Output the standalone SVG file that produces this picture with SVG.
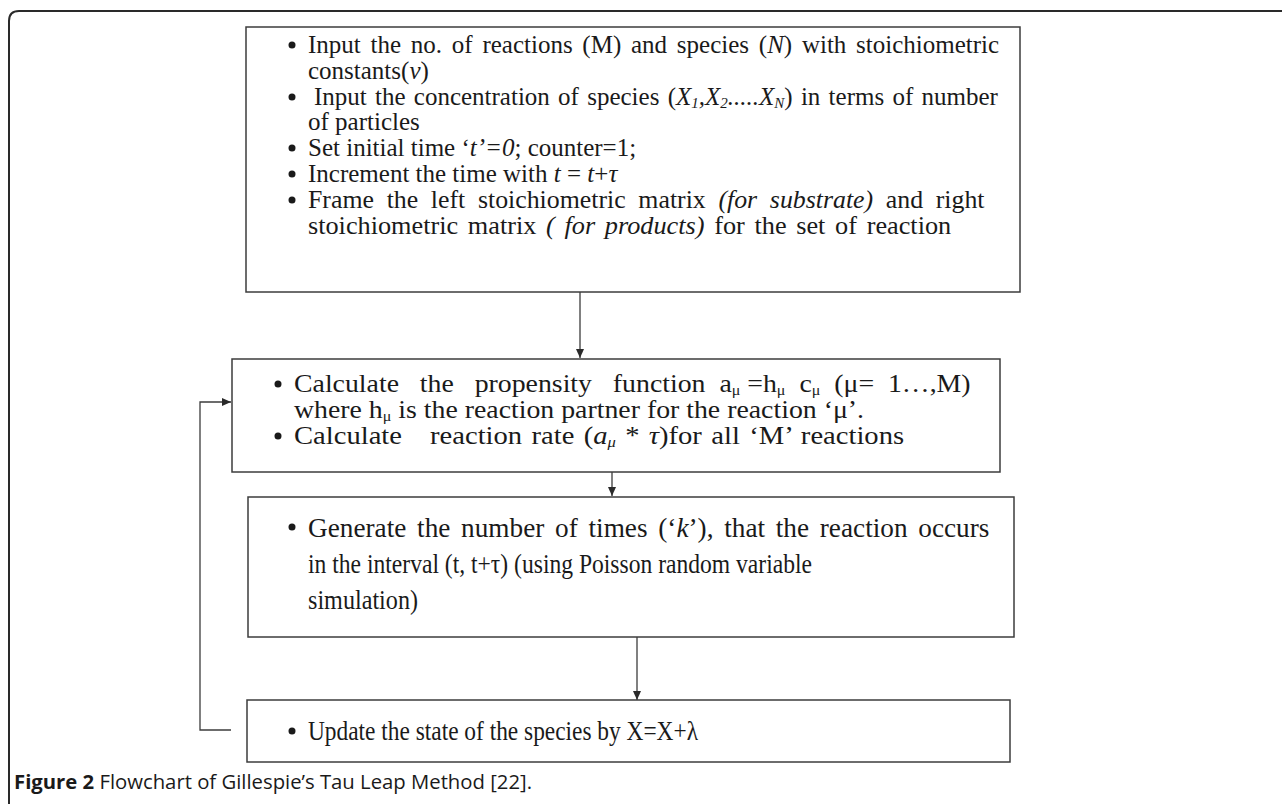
<svg xmlns="http://www.w3.org/2000/svg" width="1282" height="804" viewBox="0 0 1282 804">
<defs>
<style>
.frame{fill:none;stroke:#2a2a2a;stroke-width:2}
.box{fill:#fff;stroke:#3c3c3c;stroke-width:1.5}
.conn{fill:none;stroke:#3c3c3c;stroke-width:1.3}
.t{font-family:"Liberation Serif","Times New Roman",serif;font-size:25px;fill:#1a1a1a}
.t2{font-family:"Liberation Serif","Times New Roman",serif;font-size:26px;fill:#1a1a1a}
.t3{font-family:"Liberation Serif","Times New Roman",serif;font-size:28px;fill:#1a1a1a}
.i{font-style:italic}
.sub{font-size:15px}
.cap{font-family:"Open Sans","Liberation Sans",sans-serif;font-size:20px;fill:#1a1a1a}
</style>
<marker id="ah" markerWidth="10" markerHeight="10" refX="9" refY="5" orient="auto" markerUnits="userSpaceOnUse">
<path d="M0,1 L9,5 L0,9 Z" fill="#2a2a2a"/>
</marker>
</defs>
<rect width="1282" height="804" fill="#fff"/>
<path class="frame" d="M1282,11 L19,11 Q9,11 9,21 L9,804"/>

<g id="connectors">
<line class="conn" x1="580" y1="292" x2="580" y2="358" marker-end="url(#ah)"/>
<line class="conn" x1="612" y1="472" x2="612" y2="496" marker-end="url(#ah)"/>
<line class="conn" x1="637" y1="637" x2="637" y2="700" marker-end="url(#ah)"/>
<polyline class="conn" points="231,730 200,730 200,402 231,402" marker-end="url(#ah)"/>
</g>

<g id="node1">
<rect class="box" x="246" y="27" width="774" height="265"/>
<g class="t">
<circle cx="292" cy="45" r="3.5" fill="#1a1a1a"/>
<text x="308" y="53" word-spacing="3.5">Input the no. of reactions (M) and species (<tspan class="i">N</tspan>) with stoichiometric</text>
<text x="308" y="79">constants(<tspan class="i">v</tspan>)</text>
<circle cx="292" cy="97" r="3.5" fill="#1a1a1a"/>
<text x="314" y="105" word-spacing="2">Input the concentration of species (<tspan class="i">X<tspan class="sub" dy="3">1</tspan><tspan dy="-3">,X</tspan><tspan class="sub" dy="3">2</tspan><tspan dy="-3">.....X</tspan><tspan class="sub" dy="3">N</tspan></tspan><tspan dy="-3">) in terms of number</tspan></text>
<text x="308" y="130">of particles</text>
<circle cx="292" cy="148" r="3.5" fill="#1a1a1a"/>
<text x="308" y="156">Set initial time ‘<tspan class="i">t’=0</tspan>; counter=1;</text>
<circle cx="292" cy="174" r="3.5" fill="#1a1a1a"/>
<text x="308" y="182">Increment the time with <tspan class="i">t</tspan> = <tspan class="i">t</tspan>+<tspan class="i">τ</tspan></text>
<circle cx="292" cy="200" r="3.5" fill="#1a1a1a"/>
<text transform="translate(308,208) scale(1.034,1)" word-spacing="6">Frame the left stoichiometric matrix <tspan class="i">(for substrate)</tspan> and right</text>
<text transform="translate(308,234) scale(1.05,1)" word-spacing="3">stoichiometric matrix <tspan class="i">( for products)</tspan> for the set of reaction</text>
</g>
</g>

<g id="node2">
<rect class="box" x="232" y="359" width="768" height="113"/>
<g class="t2">
<circle cx="278" cy="384" r="3.5" fill="#1a1a1a"/>
<text transform="translate(294,392) scale(1.07,1)" xml:space="preserve">Calculate   the   propensity   function  a<tspan class="sub" dy="3">μ</tspan><tspan dy="-3"> =h</tspan><tspan class="sub" dy="3">μ</tspan><tspan dy="-3">  c</tspan><tspan class="sub" dy="3">μ</tspan><tspan dy="-3">  (μ=  1…,M)</tspan></text>
<text transform="translate(294,418) scale(1.07,1)">where h<tspan class="sub" dy="3">μ</tspan><tspan dy="-3"> is the reaction partner for the reaction ‘μ’.</tspan></text>
<circle cx="278" cy="436" r="3.5" fill="#1a1a1a"/>
<text transform="translate(294,444) scale(1.1,1)" xml:space="preserve" word-spacing="2">Calculate   reaction rate (<tspan class="i">a</tspan><tspan class="i sub" dy="3">μ</tspan><tspan dy="-3"> * </tspan><tspan class="i">τ</tspan>)for all ‘M’ reactions</text>
</g>
</g>

<g id="node3">
<rect class="box" x="248" y="497" width="766" height="140"/>
<g class="t3">
<circle cx="292" cy="527" r="3.5" fill="#1a1a1a"/>
<text transform="translate(308,537) scale(0.974,1)" word-spacing="4">Generate the number of times (‘<tspan class="i">k</tspan>’), that the reaction occurs</text>
<text x="308" y="573" textLength="504" lengthAdjust="spacingAndGlyphs">in the interval (t, t+τ) (using Poisson random variable</text>
<text x="308" y="609" textLength="110" lengthAdjust="spacingAndGlyphs">simulation)</text>
</g>
</g>

<g id="node4">
<rect class="box" x="247" y="700" width="763" height="62"/>
<g class="t3">
<circle cx="292" cy="731" r="3.5" fill="#1a1a1a"/>
<text x="308" y="740" textLength="390" lengthAdjust="spacingAndGlyphs">Update the state of the species by X=X+λ</text>
</g>
</g>

<text class="cap" x="14" y="789" textLength="518" lengthAdjust="spacingAndGlyphs"><tspan font-weight="bold">Figure 2</tspan> Flowchart of Gillespie’s Tau Leap Method [22].</text>
</svg>
